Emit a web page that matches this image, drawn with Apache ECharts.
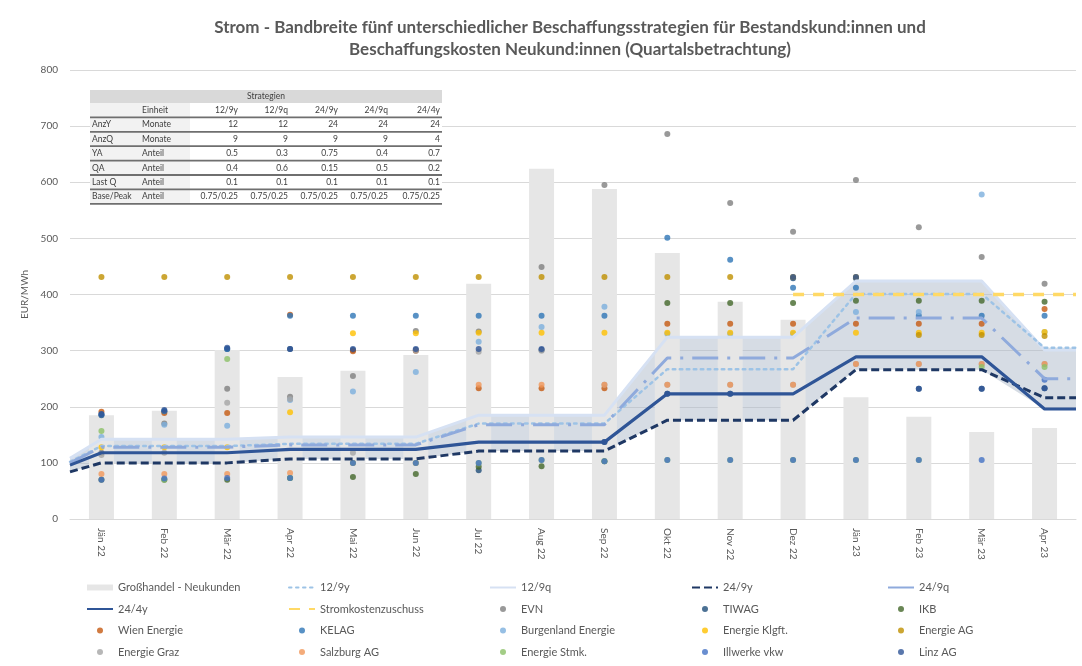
<!DOCTYPE html>
<html>
<head>
<meta charset="utf-8">
<script src="https://cdn.jsdelivr.net/npm/echarts@6/dist/echarts.min.js"></script>
<style>
  html, body { margin: 0; padding: 0; background: #ffffff; }
  #chart { width: 1082px; height: 666px; }
</style>
</head>
<body>
<div id="chart"></div>
<script>
// ---- Kategorien (Monate) ----
const months = ['Jän 22', 'Feb 22', 'Mär 22', 'Apr 22', 'Mai 22', 'Jun 22', 'Jul 22', 'Aug 22',
  'Sep 22', 'Okt 22', 'Nov 22', 'Dez 22', 'Jän 23', 'Feb 23', 'Mär 23', 'Apr 23'];

// ---- Großhandel - Neukunden (EUR/MWh) ----
const grosshandel = [185, 193, 301, 253, 264, 292, 419, 624, 588, 474, 387, 355, 217, 182, 155, 162];

// ---- Beschaffungsstrategien: Wert am linken Rand + Monatswerte ----
const start12_9y = 102;
const s12_9y = [130, 130, 130, 134, 134, 134, 170, 170, 170, 267, 267, 267, 401, 401, 401, 305];
const start12_9q = 108;
const s12_9q = [142, 142, 142, 146, 146, 146, 185, 185, 185, 324, 324, 324, 424, 424, 424, 301];
const start24_9y = 84;
const s24_9y = [100, 100, 100, 107, 107, 107, 121, 121, 121, 176, 176, 176, 266, 266, 266, 216];
const start24_9q = 100;
const s24_9q = [128, 128, 128, 132, 132, 132, 168, 168, 168, 287, 287, 287, 358, 358, 358, 250];
const start24_4y = 96;
const s24_4y = [118, 118, 118, 124, 124, 124, 137, 137, 137, 223, 223, 223, 289, 289, 289, 196];

// ---- Stromkostenzuschuss ----
const zuschuss = [null, null, null, null, null, null, null, null, null, null, null, 400, 400, 400, 400, 400];

// ---- Lieferanten (Bestandskund:innen) ----
const evn        = [118, 170, 232, 218, 255, 335, 334, 449, 595, 686, 563, 512, 604, 520, 467, 419];
const tiwag      = [185, 192, 303, 303, 301, 301, 87, 301, 137, 223, 223, 429, 429, 232, 232, 233];
const ikb        = [70, 70, 70, 73, 75, 80, 93, 94, 103, 385, 385, 385, 389, 389, 389, 387];
const wienEnergie = [191, 189, 189, 364, 299, 300, 233, 233, 233, 348, 348, 348, 348, 348, 348, 374];
const kelag      = [186, 192, 303, 362, 362, 362, 362, 362, 362, 501, 462, 412, 412, 362, 362, 362];
const burgenland = [146, 168, 166, 212, 227, 262, 316, 342, 378, 330, 330, 330, 369, 369, 578, 333];
const klgft      = [128, 128, 128, 190, 331, 331, 332, 332, 332, 332, 332, 332, 332, 332, 332, 333];
const energieAG  = [431, 431, 431, 431, 431, 431, 431, 431, 431, 431, 431, 431, 431, 328, 328, 326];
const graz       = [114, 118, 207, 214, 118, 300, 298, 300, 239, 239, 239, 239, 276, 276, 276, 276];
const salzburg   = [80, 80, 80, 82, 100, 100, 239, 239, 239, 239, 239, 239, 276, 276, 276, 276];
const stmk       = [157, 70, 285, 73, 100, 100, 100, 105, 103, 105, 105, 105, 105, 105, 271, 271];
const illwerke   = [70, 72, 73, 73, 100, 100, 100, 105, 103, 105, 105, 105, 105, 105, 105, 248];
const linz       = [187, 194, 305, 303, 303, 303, 303, 303, 137, 223, 223, 431, 431, 232, 232, 233];

// ---- Tabelle der Strategieparameter ----
const tableTitle = 'Strategien';
const tableHead = ['Einheit', '12/9y', '12/9q', '24/9y', '24/9q', '24/4y'];
const tableRows = [
  ['AnzY', 'Monate', '12', '12', '24', '24', '24'],
  ['AnzQ', 'Monate', '9', '9', '9', '9', '4'],
  ['YA', 'Anteil', '0.5', '0.3', '0.75', '0.4', '0.7'],
  ['QA', 'Anteil', '0.4', '0.6', '0.15', '0.5', '0.2'],
  ['Last Q', 'Anteil', '0.1', '0.1', '0.1', '0.1', '0.1'],
  ['Base/Peak', 'Anteil', '0.75/0.25', '0.75/0.25', '0.75/0.25', '0.75/0.25', '0.75/0.25']
];

const yTicks = { min: 0, max: 800, interval: 100 };

// ---------------------------------------------------------------
const FONT = 'Lato, "Liberation Sans", sans-serif';
const TXT = '#595959';

// strategy lines run from the left plot edge to the right plot edge
function strategyPoints(startValue, values) {
  const pts = [[-0.5, startValue]];
  values.forEach((v, i) => pts.push([i, v]));
  pts.push([values.length - 0.5, values[values.length - 1]]);
  return pts;
}

const strategies = [
  { name: '12/9y', pts: strategyPoints(start12_9y, s12_9y), style: { color: '#9dc3e6', width: 2.5, type: [2.5, 4.5], cap: 'round' } },
  { name: '12/9q', pts: strategyPoints(start12_9q, s12_9q), style: { color: '#d6e1f3', width: 3, type: 'solid' } },
  { name: '24/9y', pts: strategyPoints(start24_9y, s24_9y), style: { color: '#1f3864', width: 3, type: [8, 4] } },
  { name: '24/9q', pts: strategyPoints(start24_9q, s24_9q), style: { color: '#8faadc', width: 3, type: [26, 9, 3, 9] } },
  { name: '24/4y', pts: strategyPoints(start24_4y, s24_4y), style: { color: '#2f5597', width: 3.2, type: 'solid' } }
];

// band between lowest and highest strategy
const bandLow = [], bandHigh = [];
strategies[0].pts.forEach((p, k) => {
  const vals = strategies.map(s => s.pts[k][1]);
  bandLow.push([p[0], Math.min(...vals)]);
  bandHigh.push([p[0], Math.max(...vals)]);
});

// subsidy line from its first month to the right plot edge
const zuschussPts = [];
zuschuss.forEach((v, i) => { if (v !== null) zuschussPts.push([i, v]); });
zuschussPts.push([zuschuss.length - 0.5, zuschuss[zuschuss.length - 1]]);

const suppliers = [
  ['EVN', evn, '#7f7f7f'],
  ['TIWAG', tiwag, '#1f4e79'],
  ['IKB', ikb, '#43682b'],
  ['Wien Energie', wienEnergie, '#c55a11'],
  ['KELAG', kelag, '#2e75b6'],
  ['Burgenland Energie', burgenland, '#7cafdd'],
  ['Energie Klgft.', klgft, '#ffc000'],
  ['Energie AG', energieAG, '#bf9000'],
  ['Energie Graz', graz, '#a5a5a5'],
  ['Salzburg AG', salzburg, '#f1975a'],
  ['Energie Stmk.', stmk, '#8cc168'],
  ['Illwerke vkw', illwerke, '#4472c4'],
  ['Linz AG', linz, '#2f5597']
];

const series = [];
series.push({
  name: 'Großhandel - Neukunden', type: 'bar', data: grosshandel,
  xAxisIndex: 0, barWidth: 25, itemStyle: { color: '#e6e6e6' }, silent: true
});
// shaded range between the strategies
series.push({
  name: '__band', type: 'custom', xAxisIndex: 1, yAxisIndex: 0, silent: true,
  data: bandLow.map((p, k) => [p[0], p[1], bandHigh[k][1]]),
  encode: { x: 0, y: [1, 2] },
  renderItem: (params, api) => {
    if (params.dataIndex !== 0) return null;
    const pts = bandHigh.map(p => api.coord(p));
    for (let k = bandLow.length - 1; k >= 0; k--) pts.push(api.coord(bandLow[k]));
    return { type: 'polygon', shape: { points: pts }, style: { fill: 'rgba(173,185,202,0.5)' } };
  }
});
const lineOrder = ['12/9q', '12/9y', '24/9q', '24/9y', '24/4y'];
lineOrder.forEach(n => {
  const s = strategies.find(x => x.name === n);
  series.push({
    name: s.name, type: 'line', xAxisIndex: 1, data: s.pts, symbol: 'none',
    lineStyle: s.style, itemStyle: { color: s.style.color }, silent: true
  });
});
series.push({
  name: 'Stromkostenzuschuss', type: 'line', xAxisIndex: 1, data: zuschussPts, symbol: 'none',
  lineStyle: { color: '#ffd966', width: 3.5, type: [11, 9] }, itemStyle: { color: '#ffd966' }, silent: true
});
suppliers.forEach(([name, vals, color]) => {
  series.push({
    name, type: 'scatter', xAxisIndex: 0, data: vals, symbol: 'circle', symbolSize: 6,
    itemStyle: { color }, silent: true
  });
});

// legend: five columns of four entries
const lineNames = ['12/9y', '12/9q', '24/9y', '24/9q', '24/4y', 'Stromkostenzuschuss'];
const legendCols = [
  { left: 86, items: ['Großhandel - Neukunden', '24/4y', 'Wien Energie', 'Energie Graz'] },
  { left: 288, items: ['12/9y', 'Stromkostenzuschuss', 'KELAG', 'Salzburg AG'] },
  { left: 489, items: ['12/9q', 'EVN', 'Burgenland Energie', 'Energie Stmk.'] },
  { left: 691, items: ['24/9y', 'TIWAG', 'Energie Klgft.', 'Illwerke vkw'] },
  { left: 887, items: ['24/9q', 'IKB', 'Energie AG', 'Linz AG'] }
];
const legends = legendCols.map(col => ({
  orient: 'vertical', left: col.left, top: 582, height: 84, itemWidth: 26, itemHeight: 6, itemGap: 10.5,
  selectedMode: false, padding: 0,
  textStyle: { fontFamily: FONT, fontSize: 11, color: TXT },
  data: col.items.map(n => {
    if (n === 'Großhandel - Neukunden') return { name: n, icon: 'rect' };
    if (lineNames.includes(n)) return { name: n, itemStyle: { opacity: 0 } };
    return { name: n, icon: 'circle' };
  })
}));

// parameter table drawn as graphic elements
const tbl = { left: 90, right: 442, top: 90, headH: 13, rowH: 14.4, labelX: 92, unitX: 142, shadeRight: 190,
  colRight: [238, 288, 338, 388, 440] };
const graphics = [];
const headRowTop = tbl.top + tbl.headH;
const firstDataTop = headRowTop + tbl.rowH;
const tableBottom = firstDataTop + tbl.rowH * tableRows.length;
graphics.push({ type: 'rect', shape: { x: tbl.left, y: tbl.top - 2, width: tbl.right - tbl.left, height: tableBottom - tbl.top + 6 }, style: { fill: '#ffffff' }, z: 10 });
graphics.push({ type: 'rect', shape: { x: tbl.left, y: tbl.top, width: tbl.right - tbl.left, height: tbl.headH }, style: { fill: '#d9d9d9' }, z: 11 });
graphics.push({ type: 'rect', shape: { x: tbl.left, y: headRowTop, width: tbl.shadeRight - tbl.left, height: tableBottom - headRowTop }, style: { fill: '#f2f2f2' }, z: 11 });
const tFont = '8.5px ' + FONT;
graphics.push({ type: 'text', z: 12, style: { text: tableTitle, x: (tbl.left + tbl.right) / 2, y: tbl.top + tbl.headH / 2, textAlign: 'center', textVerticalAlign: 'middle', font: tFont, fill: '#404040' } });
graphics.push({ type: 'text', z: 12, style: { text: tableHead[0], x: tbl.unitX, y: headRowTop + tbl.rowH / 2, textAlign: 'left', textVerticalAlign: 'middle', font: tFont, fill: '#404040' } });
tableHead.slice(1).forEach((h, c) => {
  graphics.push({ type: 'text', z: 12, style: { text: h, x: tbl.colRight[c], y: headRowTop + tbl.rowH / 2, textAlign: 'right', textVerticalAlign: 'middle', font: tFont, fill: '#404040' } });
});
for (let r = 0; r <= tableRows.length; r++) {
  const y = firstDataTop + r * tbl.rowH;
  graphics.push({ type: 'line', z: 12, shape: { x1: tbl.left, y1: y, x2: tbl.right, y2: y }, style: { stroke: '#6f6f6f', lineWidth: 1.8 } });
}
tableRows.forEach((row, r) => {
  const yc = firstDataTop + r * tbl.rowH + tbl.rowH / 2;
  graphics.push({ type: 'text', z: 12, style: { text: row[0], x: tbl.labelX, y: yc, textAlign: 'left', textVerticalAlign: 'middle', font: tFont, fill: '#404040' } });
  graphics.push({ type: 'text', z: 12, style: { text: row[1], x: tbl.unitX, y: yc, textAlign: 'left', textVerticalAlign: 'middle', font: tFont, fill: '#404040' } });
  row.slice(2).forEach((v, c) => {
    graphics.push({ type: 'text', z: 12, style: { text: v, x: tbl.colRight[c], y: yc, textAlign: 'right', textVerticalAlign: 'middle', font: tFont, fill: '#404040' } });
  });
});

const chart = echarts.init(document.getElementById('chart'), null, { renderer: 'canvas' });
chart.setOption({
  animation: false,
  backgroundColor: '#ffffff',
  title: {
    text: 'Strom - Bandbreite fünf unterschiedlicher Beschaffungsstrategien für Bestandskund:innen und\nBeschaffungskosten Neukund:innen (Quartalsbetrachtung)',
    left: 565, top: 12, textAlign: 'center',
    textStyle: { fontFamily: FONT, fontSize: 17, fontWeight: 'bold', color: TXT, lineHeight: 22 }
  },
  grid: { left: 70, right: 6, top: 70, bottom: 147, containLabel: false, outerBoundsMode: 'none' },
  xAxis: [
    {
      type: 'category', data: months, boundaryGap: true,
      axisLine: { lineStyle: { color: '#d9d9d9' } }, axisTick: { show: false },
      axisLabel: { rotate: -90, interval: 0, margin: 9, fontFamily: FONT, fontSize: 10, color: TXT }
    },
    { type: 'value', min: -0.5, max: months.length - 0.5, show: false }
  ],
  yAxis: {
    type: 'value', min: yTicks.min, max: yTicks.max, interval: yTicks.interval,
    name: 'EUR/MWh', nameLocation: 'middle', nameGap: 30,
    nameTextStyle: { fontFamily: FONT, fontSize: 10, color: TXT },
    axisLine: { show: false }, axisTick: { show: false },
    axisLabel: { margin: 12, fontFamily: FONT, fontSize: 10, color: TXT },
    splitLine: { lineStyle: { color: '#d9d9d9', width: 1 } }
  },
  legend: legends,
  graphic: graphics,
  series
});
</script>
</body>
</html>
